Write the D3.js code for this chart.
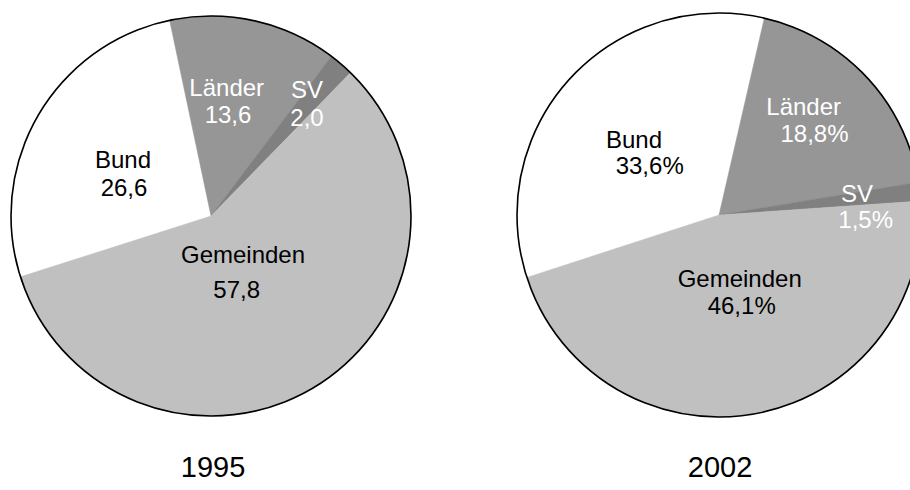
<!DOCTYPE html>
<html>
<head>
<meta charset="utf-8">
<script src="https://cdn.jsdelivr.net/npm/d3@7"></script>
<style>
  html, body { margin: 0; padding: 0; background: #fff; overflow: hidden; }
  svg { display: block; font-family: "Liberation Sans", Arial, sans-serif; }
</style>
</head>
<body>
<svg id="chart" width="910" height="490"></svg>
<script>
// ---- data ----
const categories = ["Bund", "Länder", "SV", "Gemeinden"];
const values1995 = [26.6, 13.6, 2.0, 57.8];
const values2002 = [33.6, 18.8, 1.5, 46.1];
const valueLabels1995 = ["26,6", "13,6", "2,0", "57,8"];
const valueLabels2002 = ["33,6%", "18,8%", "1,5%", "46,1%"];
const years = ["1995", "2002"];

// ---- styles / layout ----
const fills = { "Bund": "#ffffff", "Länder": "#969696", "SV": "#808080", "Gemeinden": "#c0c0c0" };
const textColors = { "Bund": "#000", "Länder": "#fff", "SV": "#fff", "Gemeinden": "#000" };

const pies = [
  {
    year: years[0], values: values1995, labels: valueLabels1995,
    cx: 211, cy: 216, r: 200, startDeg: 252.3,
    pos: {
      "Bund":      [[-88, -48], [-87, -20]],
      "Länder":    [[15.7, -120], [17, -93.3]],
      "SV":        [[96, -118], [96, -90]],
      "Gemeinden": [[32, 47], [25.7, 81.7]]
    },
    titleOffset: [2, 261]
  },
  {
    year: years[1], values: values2002, labels: valueLabels2002,
    cx: 719, cy: 215, r: 202, startDeg: 252,
    pos: {
      "Bund":      [[-85, -66.7], [-69.3, -41]],
      "Länder":    [[84.7, -100], [95.5, -73.3]],
      "SV":        [[138, -13.3], [146.7, 13]],
      "Gemeinden": [[20.7, 72.3], [22.7, 99]]
    },
    titleOffset: [1, 262]
  }
];

const svg = d3.select("#chart");

pies.forEach(p => {
  const data = categories.map((c, i) => ({ cat: c, value: p.values[i], label: p.labels[i] }));
  const start = p.startDeg * Math.PI / 180;
  const pie = d3.pie().sort(null).value(d => d.value)
    .startAngle(start).endAngle(start + 2 * Math.PI);
  const arc = d3.arc().innerRadius(0).outerRadius(p.r);

  const g = svg.append("g").attr("transform", `translate(${p.cx},${p.cy})`);

  g.selectAll("path.slice")
    .data(pie(data))
    .join("path")
    .attr("class", "slice")
    .attr("d", arc)
    .attr("fill", d => fills[d.data.cat])
    .attr("stroke", d => fills[d.data.cat])
    .attr("stroke-width", 0.5);

  g.append("circle")
    .attr("r", p.r)
    .attr("fill", "none")
    .attr("stroke", "#000")
    .attr("stroke-width", 1.6);

  data.forEach(d => {
    const [l1, l2] = p.pos[d.cat];
    g.append("text")
      .attr("x", l1[0]).attr("y", l1[1])
      .attr("text-anchor", "middle")
      .attr("font-size", 24)
      .attr("fill", textColors[d.cat])
      .text(d.cat);
    g.append("text")
      .attr("x", l2[0]).attr("y", l2[1])
      .attr("text-anchor", "middle")
      .attr("font-size", 24)
      .attr("fill", textColors[d.cat])
      .text(d.label);
  });

  g.append("text")
    .attr("x", p.titleOffset[0]).attr("y", p.titleOffset[1])
    .attr("text-anchor", "middle")
    .attr("font-size", 29)
    .attr("fill", "#000")
    .text(p.year);
});
</script>
</body>
</html>
